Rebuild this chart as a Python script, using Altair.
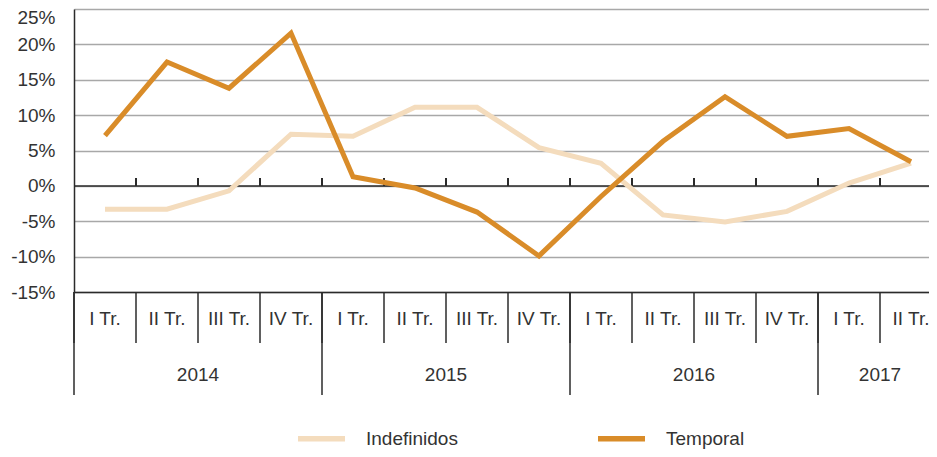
import altair as alt
import pandas as pd

# ---------------- data ----------------
years = [2014, 2014, 2014, 2014, 2015, 2015, 2015, 2015,
         2016, 2016, 2016, 2016, 2017, 2017]
quarters = ["I Tr.", "II Tr.", "III Tr.", "IV Tr.",
            "I Tr.", "II Tr.", "III Tr.", "IV Tr.",
            "I Tr.", "II Tr.", "III Tr.", "IV Tr.",
            "I Tr.", "II Tr."]
indefinidos = [-3.3, -3.3, -0.7, 7.3, 7.0, 11.1, 11.1, 5.4,
               3.2, -4.1, -5.1, -3.6, 0.4, 3.2]
temporal = [7.1, 17.5, 13.8, 21.6, 1.3, -0.3, -3.7, -9.9,
            -1.5, 6.3, 12.6, 7.0, 8.1, 3.4]
series = ["Indefinidos", "Temporal"]
colors = ["#F4DCBD", "#D98C29"]
y_ticks = [-15, -10, -5, 0, 5, 10, 15, 20, 25]

# ---------------- layout / style ----------------
W, H = 868, 283
FONT = "Liberation Sans"
TEXT = "#333333"
DARK = "#2b2b2b"
GRID = "#A8A8A8"
FS = 19

keys = [f"{y}|{q}" for y, q in zip(years, quarters)]

rows = []
for k, a, b in zip(keys, indefinidos, temporal):
    rows.append({"key": k, "serie": series[0], "valor": a})
    rows.append({"key": k, "serie": series[1], "valor": b})
lines_df = pd.DataFrame(rows)

qdf = pd.DataFrame({"key": keys, "year": years, "quarter": quarters,
                    "zero": 0.0, "tick": 1.1})
inner_df = qdf.iloc[1:]
first_df = qdf.groupby("year", as_index=False).first()

# year label anchor: edge between the two middle quarters of each year
anchor_rows = []
for yr in sorted(set(years)):
    ks = [k for k, y in zip(keys, years) if y == yr]
    anchor_rows.append({"year": str(yr), "key": ks[len(ks) // 2]})
year_df = pd.DataFrame(anchor_rows)

xscale = alt.Scale(domain=keys, paddingInner=0, paddingOuter=0)
yscale = alt.Scale(domain=[y_ticks[0], y_ticks[-1]], nice=False, zero=False)

xaxis = alt.Axis(labelExpr="split(datum.label, '|')[1]",
                 ticks=False, labelAngle=0, labelFontSize=FS,
                 labelColor=TEXT, labelPadding=17, labelOverlap=False,
                 domainColor=DARK, domainWidth=1.5, grid=False, title=None)
yaxis = alt.Axis(values=y_ticks, labelExpr="datum.value + '%'",
                 ticks=False, labelPadding=19, labelFontSize=FS,
                 labelColor=TEXT, labelOverlap=False,
                 labelOffset={"condition": {"test": "datum.value == 25", "value": 8},
                              "value": 0},
                 grid=True, gridColor=GRID, gridWidth=1.5,
                 domainColor=DARK, domainWidth=1.5, title=None)


def xenc(band=None):
    if band is None:
        return alt.X("key:N", scale=xscale, sort=keys, axis=xaxis)
    return alt.X("key:N", scale=xscale, sort=keys, axis=xaxis, bandPosition=band)


def yenc(field):
    return alt.Y(field, scale=yscale, axis=yaxis)


base_lines = alt.Chart(lines_df).mark_line(
    strokeWidth=5, strokeJoin="miter", strokeCap="butt"
).encode(
    x=xenc(),
    y=yenc("valor:Q"),
    color=alt.Color("serie:N",
                    scale=alt.Scale(domain=series, range=colors),
                    legend=alt.Legend(orient="none", legendX=221, legendY=403,
                                      direction="horizontal", title=None,
                                      symbolType="stroke", symbolSize=2209,
                                      symbolStrokeWidth=5.5, labelFontSize=FS,
                                      labelColor=TEXT, labelOffset=18,
                                      columnPadding=129, padding=0)),
    order=alt.Order("serie:N"),
)

zero_line = alt.Chart(pd.DataFrame({"v": [0.0]})).mark_rule(
    color=DARK, strokeWidth=1.5
).encode(y=yenc("v:Q"))

zero_ticks = alt.Chart(inner_df).mark_rule(color=DARK, strokeWidth=2).encode(
    x=xenc(0),
    y=yenc("zero:Q"),
    y2="tick:Q",
)

quarter_sep = alt.Chart(qdf).mark_rule(color=DARK, strokeWidth=1.5).encode(
    x=xenc(0),
    y=alt.value(H),
    y2=alt.value(H + 51),
)

year_sep = alt.Chart(first_df).mark_rule(color=DARK, strokeWidth=1.5).encode(
    x=xenc(0),
    y=alt.value(H),
    y2=alt.value(H + 103),
)

year_labels = alt.Chart(year_df).mark_text(
    fontSize=FS, color=TEXT, baseline="alphabetic", align="center", font=FONT
).encode(
    x=xenc(0),
    y=alt.value(H + 89),
    text="year:N",
)

chart = alt.layer(
    zero_line, zero_ticks, quarter_sep, year_sep, year_labels, base_lines
).properties(
    width=W, height=H,
    autosize=alt.AutoSizeParams(type="none"),
    padding={"left": 66, "top": 1, "right": -13, "bottom": 157},
).configure(font=FONT).configure_view(stroke=None).configure_axis(
    labelFont=FONT
).configure_legend(labelFont=FONT)

chart.save("out.html", embed_options={"renderer": "svg", "actions": False})
